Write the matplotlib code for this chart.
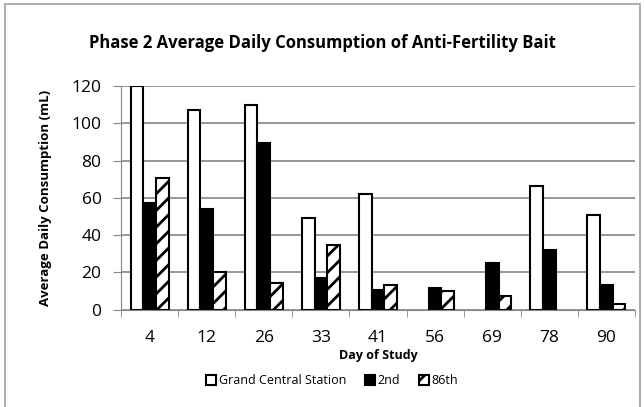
import numpy as np
import matplotlib.pyplot as plt
from matplotlib.patches import Rectangle

days = ["4", "12", "26", "33", "41", "56", "69", "78", "90"]
grand_central = [120, 107, 110, 49, 62, 0, 0, 66.4, 50.7]
second_ave = [57.3, 53.9, 89.4, 17, 10.5, 11.5, 24.7, 31.9, 13]
eighty_sixth = [70.5, 20.1, 14.4, 34.6, 13.3, 9.7, 7.2, 0, 2.8]

plt.rcParams['font.family'] = ['Open Sans', 'DejaVu Sans']
plt.rcParams['hatch.linewidth'] = 2.0


def nz(vals):
    # no bar at all where there was no reading
    return [v if v > 0 else np.nan for v in vals]


fig = plt.figure(figsize=(6.44, 4.07), dpi=100)
ax = fig.add_axes([121 / 644, 1 - 309.5 / 407, 514 / 644, 223.5 / 407])

x = np.arange(len(days))
w = 0.222
ax.bar(x - w, nz(grand_central), w, color='white', edgecolor='black', linewidth=1.5,
       label='Grand Central Station', zorder=3)
ax.bar(x, nz(second_ave), w, color='black', edgecolor='black', linewidth=1.5,
       label='2nd', zorder=3)
ax.bar(x + w, nz(eighty_sixth), w, color='white', edgecolor='black', linewidth=1.5,
       hatch='//', label='86th', zorder=3)

ax.set_xlim(-0.5, len(days) - 0.5)
ax.set_ylim(0, 120)
ax.set_yticks(range(0, 121, 20))
ax.set_xticks(x)
ax.set_xticklabels(days)
ax.set_xticks(np.arange(-0.5, len(days), 1), minor=True)
ax.tick_params(axis='x', which='major', length=0, pad=15, labelsize=12.5)
ax.tick_params(axis='x', which='minor', length=5, color='#868686', direction='out')
ax.tick_params(axis='y', length=6, color='#868686', labelsize=12.5, pad=8)

ax.grid(axis='y', color='#868686', linewidth=1.2, zorder=0)
for s in ['top', 'right']:
    ax.spines[s].set_visible(False)
ax.spines['left'].set_color('#868686')
ax.spines['bottom'].set_color('#868686')
ax.spines['bottom'].set_zorder(4)

ax.set_xlabel('Day of Study', fontsize=9, fontweight='bold', labelpad=2)
ax.set_ylabel('Average Daily Consumption (mL)', fontsize=9.5, fontweight='bold', labelpad=14)
fig.text(0.5, 1 - 43 / 407, 'Phase 2 Average Daily Consumption of Anti-Fertility Bait',
         ha='center', va='center', fontsize=12, fontweight='bold')

ax.legend(loc='center', bbox_to_anchor=(332 / 644, 1 - 381 / 407),
          bbox_transform=fig.transFigure, ncol=3, frameon=False, fontsize=9,
          handlelength=0.8, handleheight=0.8, handletextpad=0.2, columnspacing=1.5)

fig.patches.append(Rectangle((5 / 644, -0.01), 635 / 644, 1.0, transform=fig.transFigure,
                             fill=False, edgecolor='#a0a0a0', linewidth=1.2))

fig.savefig('out.png', dpi=100)
